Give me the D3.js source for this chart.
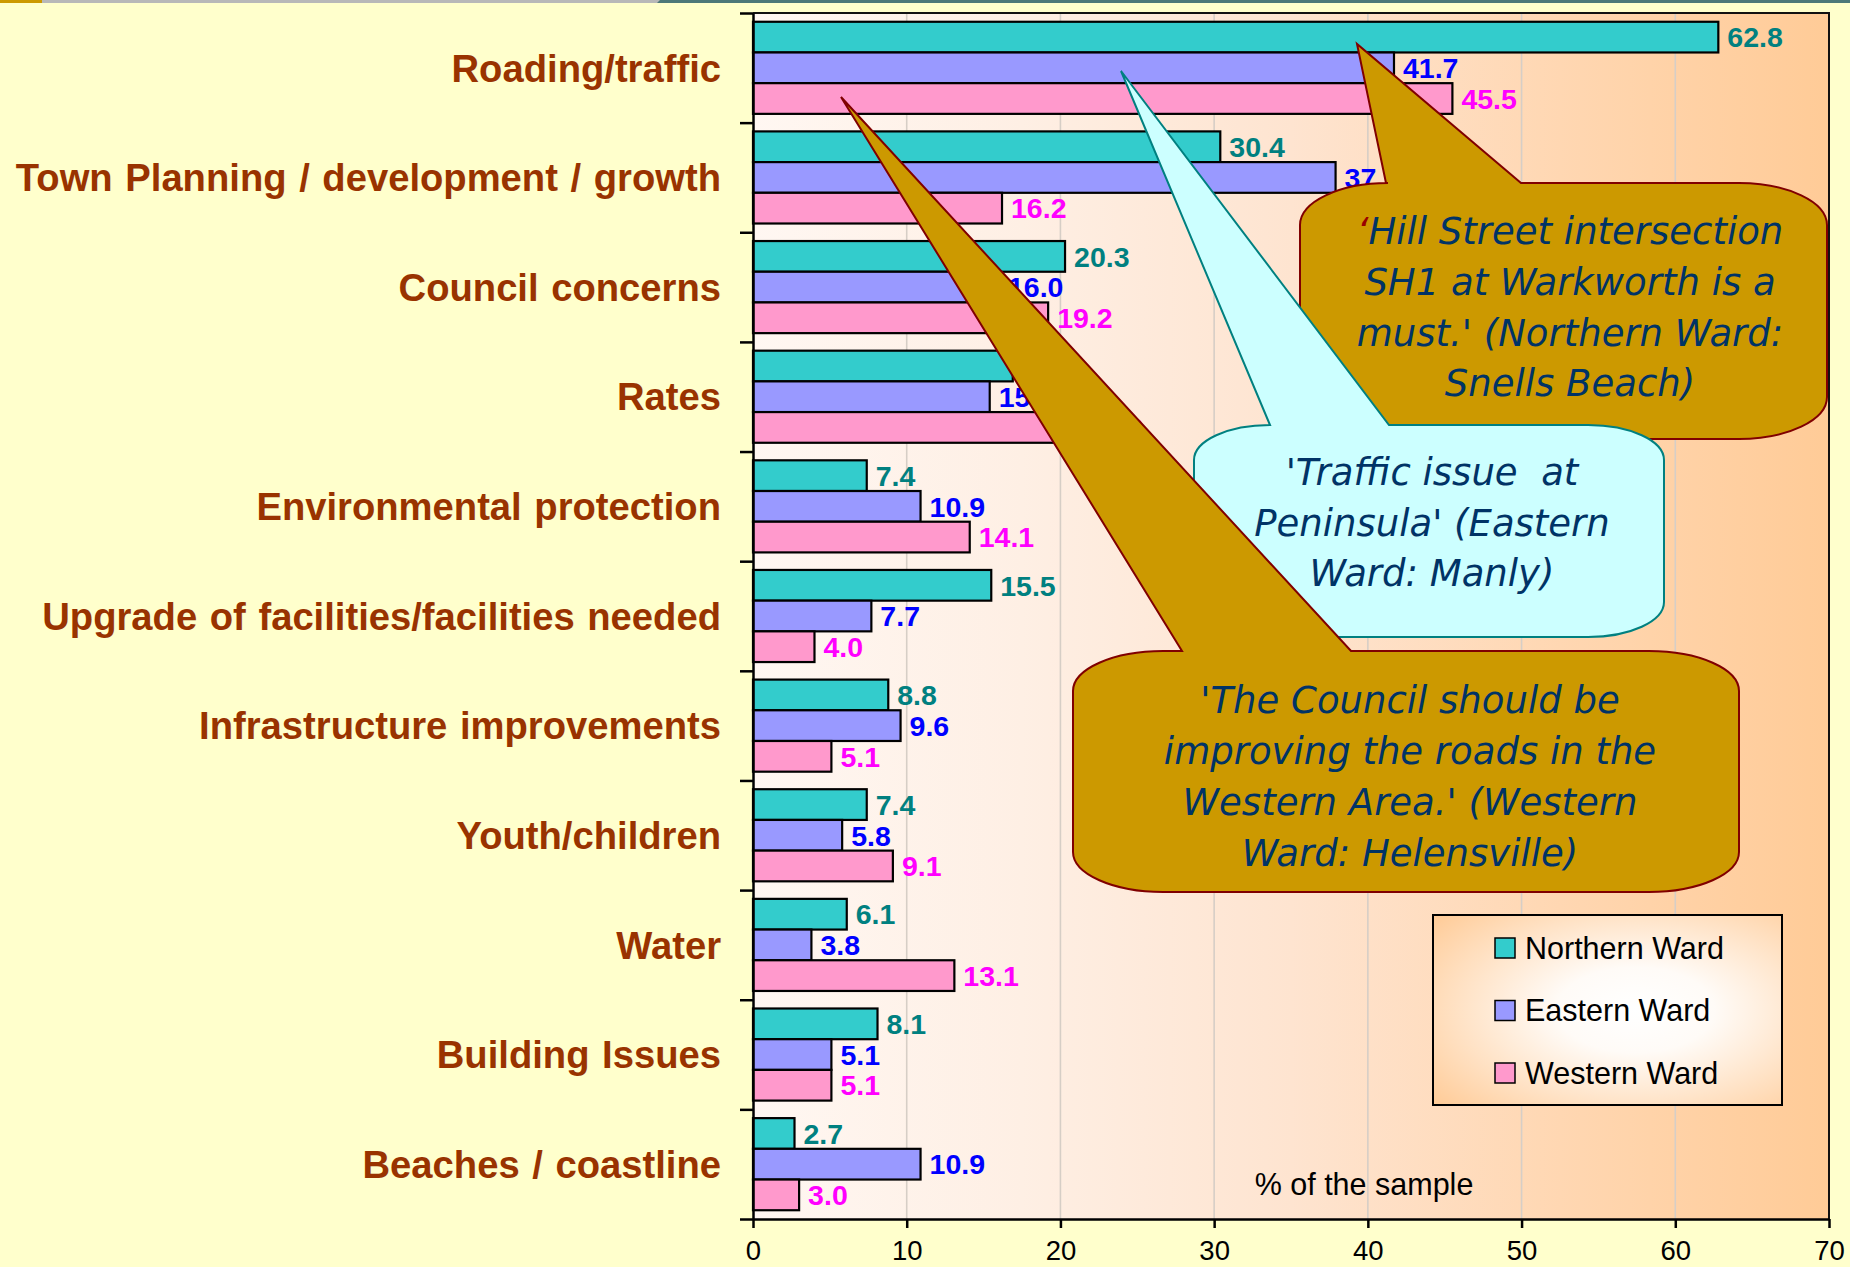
<!DOCTYPE html>
<html>
<head>
<meta charset="utf-8">
<script src="https://cdn.jsdelivr.net/npm/d3@7"></script>
<style>
  html, body { margin: 0; padding: 0; background: #FFFFCC; }
  svg { display: block; }
</style>
</head>
<body>
<svg id="chart" width="1850" height="1267"></svg>
<script>
// ---------------- DATA ----------------
const categories = [
  "Roading/traffic",
  "Town Planning / development / growth",
  "Council concerns",
  "Rates",
  "Environmental protection",
  "Upgrade of facilities/facilities needed",
  "Infrastructure improvements",
  "Youth/children",
  "Water",
  "Building Issues",
  "Beaches / coastline"
];
const northernWard = [62.8, 30.4, 20.3, 16.9, 7.4, 15.5, 8.8, 7.4, 6.1, 8.1, 2.7];
const easternWard  = [41.7, 37.9, 16.0, 15.4, 10.9, 7.7, 9.6, 5.8, 3.8, 5.1, 10.9];
const westernWard  = [45.5, 16.2, 19.2, 21.2, 14.1, 4.0, 5.1, 9.1, 13.1, 5.1, 3.0];
const seriesNames  = ["Northern Ward", "Eastern Ward", "Western Ward"];
const xTicks       = [0, 10, 20, 30, 40, 50, 60, 70];
const axisTitle    = "% of the sample";
const quotes = [
  ["\u2018Hill Street intersection", "SH1 at Warkworth is a", "must.' (Northern Ward:", "Snells Beach)"],
  ["'Traffic issue  at", "Peninsula' (Eastern", "Ward: Manly)"],
  ["'The Council should be", "improving the roads in the", "Western Area.' (Western", "Ward: Helensville)"]
];

// ---------------- STYLE ----------------
const barFill   = ["#33CCCC", "#9999FF", "#FF99CC"];
const labelFill = ["#008080", "#0000FF", "#FF00FF"];
const seriesData = [northernWard, easternWard, westernWard];

const W = 1850, H = 1267;
const plot = { left: 753, right: 1829, top: 13, bottom: 1219 };

const svg = d3.select("#chart");
const defs = svg.append("defs");

// top decoration strip
svg.append("rect").attr("x", 0).attr("y", 0).attr("width", W).attr("height", 3).attr("fill", "#4D7878");
svg.append("path").attr("d", "M0,0 H660 L657,3 H0 Z").attr("fill", "#B8B8B8");
svg.append("rect").attr("x", 0).attr("y", 0).attr("width", 42).attr("height", 3).attr("fill", "#CC9900");

// gradients
const pg = defs.append("linearGradient").attr("id", "plotGrad").attr("x1", "0").attr("x2", "1").attr("y1", "0").attr("y2", "0");
[[0, "#FFF7F2"], [0.25, "#FEEFE4"], [0.5, "#FEE4D0"], [0.75, "#FFD7B2"], [1, "#FFCB97"]]
  .forEach(([o, c]) => pg.append("stop").attr("offset", o).attr("stop-color", c));

const lg = defs.append("radialGradient").attr("id", "legGrad").attr("cx", "0.58").attr("cy", "0.5").attr("r", "0.75");
[[0, "#FFFFFF"], [0.3, "#FFFBF7"], [0.75, "#FFDDBB"], [1, "#FFCC99"]]
  .forEach(([o, c]) => lg.append("stop").attr("offset", o).attr("stop-color", c));

// ---------------- SCALES ----------------
const x = d3.scaleLinear().domain([0, 70]).range([plot.left, plot.right]);
const y0 = d3.scaleBand().domain(categories).range([plot.top, plot.bottom]).paddingInner(0.16).paddingOuter(0.08);
const y1 = d3.scaleBand().domain(seriesNames).range([0, y0.bandwidth()]);
const yb = d3.scaleLinear().domain([0, categories.length]).range([plot.top, plot.bottom]);

// plot background
svg.append("rect")
  .attr("x", plot.left).attr("y", plot.top)
  .attr("width", plot.right - plot.left).attr("height", plot.bottom - plot.top)
  .attr("fill", "url(#plotGrad)");

// gridlines
svg.append("g").selectAll("line").data(xTicks.filter(t => t > 0 && t < 70)).join("line")
  .attr("x1", d => x(d)).attr("x2", d => x(d))
  .attr("y1", plot.top).attr("y2", plot.bottom)
  .attr("stroke", "#D6CEC6").attr("stroke-width", 1.6);

// axis title
svg.append("text")
  .attr("x", 1364).attr("y", 1195)
  .attr("text-anchor", "middle")
  .attr("font-family", "'Liberation Sans', Arial, sans-serif")
  .attr("font-size", 30.5).attr("fill", "#000")
  .text(axisTitle);

// bars
const groups = svg.append("g").selectAll("g").data(categories).join("g")
  .attr("transform", d => `translate(0,${y0(d)})`);

groups.each(function(cat, ci) {
  const g = d3.select(this);
  seriesNames.forEach((s, si) => {
    const v = seriesData[si][ci];
    g.append("rect")
      .attr("x", x(0)).attr("y", y1(s))
      .attr("width", x(v) - x(0)).attr("height", y1.bandwidth())
      .attr("fill", barFill[si]).attr("stroke", "#000").attr("stroke-width", 2.2);
  });
});
groups.each(function(cat, ci) {
  const g = d3.select(this);
  seriesNames.forEach((s, si) => {
    const v = seriesData[si][ci];
    g.append("text")
      .attr("x", x(v) + 9).attr("y", y1(s) + y1.bandwidth() / 2)
      .attr("dy", "0.36em")
      .attr("font-family", "'Liberation Sans', Arial, sans-serif")
      .attr("font-weight", "bold").attr("font-size", 28.5)
      .attr("fill", labelFill[si])
      .text(d3.format(".1f")(v));
  });
});

// category labels
svg.append("g").selectAll("text").data(categories).join("text")
  .attr("x", 721).attr("y", d => y0(d) + y0.bandwidth() / 2)
  .attr("dy", "0.36em")
  .attr("text-anchor", "end")
  .attr("font-family", "'Liberation Sans', Arial, sans-serif")
  .attr("font-weight", "bold").attr("font-size", 38.2)
  .attr("word-spacing", 2)
  .attr("fill", "#993300")
  .text(d => d);

// plot border (top/right)
svg.append("path")
  .attr("d", `M${plot.left},${plot.top} H${plot.right} V${plot.bottom}`)
  .attr("fill", "none").attr("stroke", "#111").attr("stroke-width", 2);

// left axis (category boundaries)
const yAxis = svg.append("g").attr("transform", `translate(${plot.left},0)`)
  .call(d3.axisLeft(yb).tickValues(d3.range(categories.length + 1)).tickSize(13).tickSizeOuter(0).tickFormat(""));
yAxis.selectAll("path,line").attr("stroke", "#000").attr("stroke-width", 2.5);

// bottom axis
const xAxis = svg.append("g").attr("transform", `translate(0,${plot.bottom})`)
  .call(d3.axisBottom(x).tickValues(xTicks).tickSize(9).tickSizeOuter(0).tickPadding(12));
xAxis.selectAll("path,line").attr("stroke", "#000").attr("stroke-width", 2.5);
xAxis.selectAll("text")
  .attr("font-family", "'Liberation Sans', Arial, sans-serif")
  .attr("font-size", 27.5).attr("fill", "#000");

// legend
const leg = svg.append("g");
leg.append("rect").attr("x", 1433).attr("y", 915).attr("width", 349).attr("height", 190)
  .attr("fill", "url(#legGrad)").attr("stroke", "#000").attr("stroke-width", 2);
const legY = d3.scalePoint().domain(seriesNames).range([948, 1073]);
seriesNames.forEach((s, si) => {
  leg.append("rect").attr("x", 1495).attr("y", legY(s) - 10).attr("width", 20).attr("height", 20)
    .attr("fill", barFill[si]).attr("stroke", "#000").attr("stroke-width", 1.5);
  leg.append("text").attr("x", 1525).attr("y", legY(s)).attr("dy", "0.36em")
    .attr("font-family", "'Liberation Sans', Arial, sans-serif")
    .attr("font-size", 30.5).attr("fill", "#000")
    .text(s);
});

// callouts (annotations)
function calloutPath(c) {
  const { bx, by, bw, bh, rx, ry, tip, base } = c;
  return `M${bx + rx},${by} L${base[0]},${by} L${tip[0]},${tip[1]} L${base[1]},${by} L${bx + bw - rx},${by}
    A${rx},${ry} 0 0 1 ${bx + bw},${by + ry} L${bx + bw},${by + bh - ry}
    A${rx},${ry} 0 0 1 ${bx + bw - rx},${by + bh} L${bx + rx},${by + bh}
    A${rx},${ry} 0 0 1 ${bx},${by + bh - ry} L${bx},${by + ry}
    A${rx},${ry} 0 0 1 ${bx + rx},${by} Z`;
}
const callouts = [
  { bx: 1300, by: 183, bw: 527, bh: 256, rx: 88, ry: 42, tip: [1357, 44], base: [1386, 1521],
    fill: "#CC9900", stroke: "#800000", cx: 1570, lines: [231, 282, 333, 383] },
  { bx: 1194, by: 425, bw: 470, bh: 212, rx: 76, ry: 35, tip: [1121, 71], base: [1270, 1389],
    fill: "#CCFFFF", stroke: "#008080", cx: 1432, lines: [472, 523, 573] },
  { bx: 1073, by: 651, bw: 666, bh: 241, rx: 90, ry: 40, tip: [841, 97], base: [1182, 1351],
    fill: "#CC9900", stroke: "#800000", cx: 1410, lines: [700, 751, 802, 853] }
];
callouts.forEach((c, i) => {
  const g = svg.append("g");
  g.append("path").attr("d", calloutPath(c))
    .attr("fill", c.fill).attr("stroke", c.stroke).attr("stroke-width", 2).attr("stroke-linejoin", "miter");
  quotes[i].forEach((line, li) => {
    const t = g.append("text")
      .attr("x", c.cx).attr("y", c.lines[li]).attr("dy", "0.36em")
      .attr("text-anchor", "middle")
      .attr("font-family", "'DejaVu Sans', Verdana, sans-serif")
      .attr("font-style", "italic").attr("font-size", 37)
      .attr("fill", "#003366")
      .attr("xml:space", "preserve")
      .style("white-space", "pre");
    if (line.startsWith("\u2018")) {
      t.append("tspan").attr("fill", "#990000").text("\u2018");
      t.append("tspan").text(line.slice(1));
    } else {
      t.text(line);
    }
  });
});
</script>
</body>
</html>
